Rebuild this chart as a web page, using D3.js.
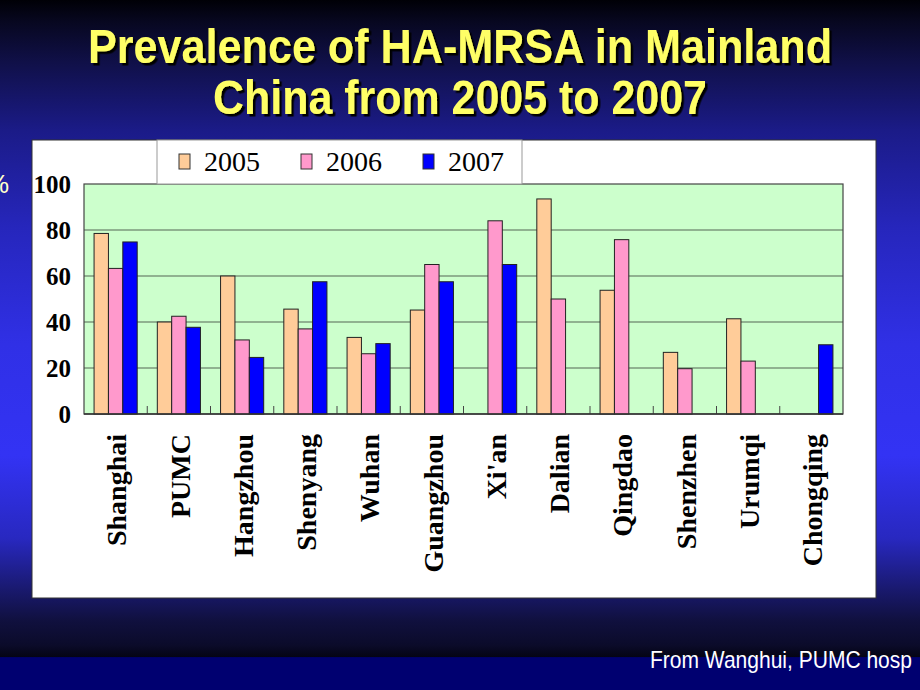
<!DOCTYPE html>
<html>
<head>
<meta charset="utf-8">
<script src="https://cdn.jsdelivr.net/npm/d3@7"></script>
<style>
  html, body { margin: 0; padding: 0; background: #000; }
  svg { display: block; }
</style>
</head>
<body>
<svg id="chart" width="920" height="690"></svg>
<script>
// ---- data ----
const categories = ["Shanghai", "PUMC", "Hangzhou", "Shenyang", "Wuhan", "Guangzhou",
                    "Xi'an", "Dalian", "Qingdao", "Shenzhen", "Urumqi", "Chongqing"];
const years = ["2005", "2006", "2007"];
const values2005 = [78.5, 40, 60, 45.6, 33.3, 45.2, null, 93.5, 53.8, 26.8, 41.4, null];
const values2006 = [63.3, 42.5, 32.2, 37, 26.2, 65, 84, 50, 75.8, 19.7, 23, null];
const values2007 = [74.8, 37.7, 24.6, 57.5, 30.6, 57.5, 65, null, null, null, null, 30.1];
const yTicks = [0, 20, 40, 60, 80, 100];
const titleLines = ["Prevalence of HA-MRSA in Mainland", "China from 2005 to 2007"];
const footnote = "From Wanghui, PUMC hosp";
const colors = {"2005": "#FFCC99", "2006": "#FF99CC", "2007": "#0000FF"};

const seriesByYear = {"2005": values2005, "2006": values2006, "2007": values2007};

const svg = d3.select("#chart");

// ---- background ----
const defs = svg.append("defs");
const bg = defs.append("linearGradient").attr("id", "bg").attr("x1", 0).attr("y1", 0).attr("x2", 0).attr("y2", 1);
[[0, "#000006"], [0.03, "#07071f"], [0.09, "#101048"], [0.19, "#1b1b88"], [0.33, "#2626bc"],
 [0.5, "#3030e6"], [0.66, "#3333f4"], [0.78, "#2828c0"], [0.86, "#181868"], [0.9, "#10103e"],
 [0.935, "#0b0b2a"], [0.952, "#040414"], [0.953, "#000070"], [1, "#000070"]]
  .forEach(([o, c]) => bg.append("stop").attr("offset", o).attr("stop-color", c));
svg.append("rect").attr("width", 920).attr("height", 690).attr("fill", "url(#bg)");

const shadow = defs.append("filter").attr("id", "shadow")
  .attr("x", "-5%").attr("y", "-20%").attr("width", "110%").attr("height", "140%");
shadow.append("feDropShadow").attr("dx", 2.5).attr("dy", 2.5).attr("stdDeviation", 0.3)
  .attr("flood-color", "#000").attr("flood-opacity", 1);

// ---- title ----
const titleG = svg.append("g").attr("filter", "url(#shadow)");
const titleSpec = [{y: 63, len: 744}, {y: 114, len: 494}];
titleLines.forEach((t, i) => {
  titleG.append("text")
    .attr("x", 460).attr("y", titleSpec[i].y)
    .attr("text-anchor", "middle")
    .attr("font-family", "Liberation Sans, Arial, sans-serif")
    .attr("font-weight", "bold").attr("font-size", 48)
    .attr("textLength", titleSpec[i].len).attr("lengthAdjust", "spacingAndGlyphs")
    .attr("fill", "#FFFF66").text(t);
});

// ---- % label (partly cut off, as in the original) ----
svg.append("text").attr("x", 9).attr("y", 193).attr("text-anchor", "end")
  .attr("font-family", "Liberation Sans, Arial, sans-serif").attr("font-size", 26)
  .attr("fill", "#FFFFCC").text("%");

// ---- white panel ----
svg.append("rect").attr("x", 32).attr("y", 140).attr("width", 844).attr("height", 458)
  .attr("fill", "#fff").attr("stroke", "#333").attr("stroke-width", 1);

// ---- scales ----
const x0 = d3.scaleBand().domain(categories).range([84, 843]).paddingInner(0).paddingOuter(0);
const x1 = d3.scaleBand().domain(years).range([0, x0.bandwidth()]).paddingInner(0).paddingOuter(0.7);
const y = d3.scaleLinear().domain([0, 100]).range([414, 184]);

// plot area
svg.append("rect").attr("x", 84).attr("y", y(100)).attr("width", 843 - 84).attr("height", y(0) - y(100))
  .attr("fill", "#CCFFCC");

// gridlines
svg.append("g").selectAll("line").data(yTicks.filter(d => d > 0 && d < 100)).join("line")
  .attr("x1", 84).attr("x2", 843).attr("y1", d => y(d)).attr("y2", d => y(d))
  .attr("stroke", "#556655").attr("stroke-width", 1.2);

// plot border
svg.append("rect").attr("x", 84).attr("y", y(100)).attr("width", 843 - 84).attr("height", y(0) - y(100))
  .attr("fill", "none").attr("stroke", "#444").attr("stroke-width", 1.2);

// category boundary ticks
svg.append("g").selectAll("line").data(categories.slice(1)).join("line")
  .attr("x1", d => x0(d)).attr("x2", d => x0(d)).attr("y1", y(0)).attr("y2", y(0) - 8)
  .attr("stroke", "#444").attr("stroke-width", 1);

// bars
const barData = [];
categories.forEach((c, i) => years.forEach(yr => {
  const v = seriesByYear[yr][i];
  if (v != null) barData.push({c, yr, v});
}));
svg.append("g").selectAll("rect").data(barData).join("rect")
  .attr("x", d => x0(d.c) + x1(d.yr)).attr("width", x1.bandwidth())
  .attr("y", d => y(d.v)).attr("height", d => y(0) - y(d.v))
  .attr("fill", d => colors[d.yr]).attr("stroke", "#222").attr("stroke-width", 1);

// baseline
svg.append("line").attr("x1", 84).attr("x2", 843).attr("y1", y(0)).attr("y2", y(0))
  .attr("stroke", "#333").attr("stroke-width", 1.5);

// y labels
svg.append("g").selectAll("text").data(yTicks).join("text")
  .attr("x", 71).attr("y", d => y(d)).attr("dy", "0.36em").attr("text-anchor", "end")
  .attr("font-family", "Liberation Serif, Times New Roman, serif").attr("font-weight", "bold")
  .attr("font-size", 25).attr("fill", "#000").text(d => d);

// x labels
svg.append("g").selectAll("text").data(categories).join("text")
  .attr("transform", d => `translate(${x0(d) + x0.bandwidth() / 2},434) rotate(-90)`)
  .attr("dy", "0.38em").attr("text-anchor", "end")
  .attr("font-family", "Liberation Serif, Times New Roman, serif").attr("font-weight", "bold")
  .attr("font-size", 28).attr("fill", "#000").text(d => d);

// legend
const lg = svg.append("g");
lg.append("rect").attr("x", 157).attr("y", 140).attr("width", 365).attr("height", 44)
  .attr("fill", "#fff").attr("stroke", "#999").attr("stroke-width", 1);
const legX = d3.scalePoint().domain(years).range([179, 423]);
const items = lg.selectAll("g").data(years).join("g")
  .attr("transform", d => `translate(${legX(d)},0)`);
items.append("rect").attr("x", 0).attr("y", 154).attr("width", 11).attr("height", 15)
  .attr("fill", d => colors[d]).attr("stroke", "#333").attr("stroke-width", 1);
items.append("text").attr("x", 25).attr("y", 171)
  .attr("font-family", "Liberation Serif, Times New Roman, serif").attr("font-size", 28)
  .attr("fill", "#000").text(d => d);

// footnote
svg.append("text").attr("x", 650).attr("y", 668)
  .attr("font-family", "Liberation Sans, Arial, sans-serif").attr("font-size", 24)
  .attr("textLength", 262).attr("lengthAdjust", "spacingAndGlyphs")
  .attr("fill", "#fff").text(footnote);
</script>
</body>
</html>
